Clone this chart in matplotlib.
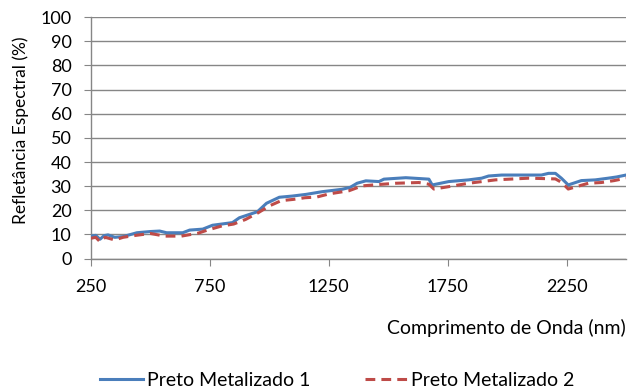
import matplotlib
matplotlib.use("Agg")
import matplotlib.pyplot as plt
from matplotlib.lines import Line2D

plt.rcParams['font.family'] = ['Lato', 'DejaVu Sans']
plt.rcParams['axes.unicode_minus'] = False

# Preto Metalizado 1 (nm, %)
wl_1 = [250, 270, 288, 305, 322, 350, 385, 443, 500, 539, 568, 636, 665, 720,
        761, 845, 874, 950, 988, 1042, 1097, 1155, 1222, 1306, 1340, 1369, 1406,
        1461, 1482, 1574, 1671, 1685, 1700, 1755, 1838, 1893, 1922, 1977, 2144,
        2174, 2203, 2228, 2257, 2312, 2371, 2425, 2460, 2500]
refl_1 = [9.3, 9.6, 8.0, 9.5, 9.8, 8.8, 9.1, 10.7, 11.2, 11.4, 10.7, 10.7, 11.8,
          12.2, 13.8, 14.9, 16.9, 19.4, 22.9, 25.4, 25.9, 26.6, 27.7, 28.7, 29.5,
          31.2, 32.2, 31.9, 32.9, 33.5, 32.9, 30.5, 30.8, 31.9, 32.6, 33.3, 34.2,
          34.6, 34.6, 35.3, 35.3, 33.3, 30.5, 32.3, 32.6, 33.3, 33.8, 34.6]

# Preto Metalizado 2 (nm, %)
wl_2 = [250, 270, 288, 310, 350, 385, 430, 500, 560, 630, 700, 740, 800, 850,
        900, 950, 1000, 1050, 1100, 1150, 1200, 1252, 1335, 1390, 1450, 1532,
        1629, 1671, 1692, 1755, 1838, 1951, 2090, 2203, 2230, 2257, 2341, 2396,
        2450, 2500]
refl_2 = [8.4, 8.8, 7.0, 8.8, 7.7, 8.8, 9.5, 10.4, 9.3, 9.3, 10.5, 11.8, 13.5,
          14.3, 16.2, 18.8, 21.8, 24.0, 24.5, 25.2, 25.5, 26.8, 28.1, 30.1, 30.6,
          31.2, 31.5, 30.8, 28.8, 29.8, 31.2, 32.6, 33.3, 33.0, 31.5, 28.8, 31.2,
          31.5, 32.3, 33.3]

x_ticks = [250, 750, 1250, 1750, 2250]
y_ticks = list(range(0, 101, 10))
labels = ["Preto Metalizado 1", "Preto Metalizado 2"]

blue = "#4A7EBB"
red = "#BE4B48"
grid_c = "#868686"
dash = (0, (3.2, 2.0))

fig = plt.figure(figsize=(6.3, 3.9), dpi=100)
ax = fig.add_axes([0.1444, 0.337, 0.8493, 0.619])

ax.plot(wl_1, refl_1, color=blue, lw=2.2, zorder=3)
ax.plot(wl_2, refl_2, color=red, lw=2.2, ls=dash, zorder=4)

ax.set_xlim(250, 2500)
ax.set_ylim(0, 100)
ax.set_xticks(x_ticks)
ax.set_yticks(y_ticks)
ax.yaxis.grid(True, color=grid_c, lw=1.0)
ax.set_axisbelow(True)

for s in ["top", "right"]:
    ax.spines[s].set_visible(False)
for s in ["left", "bottom"]:
    ax.spines[s].set_color(grid_c)
    ax.spines[s].set_linewidth(1.0)

ax.tick_params(axis="both", direction="out", length=5, color=grid_c,
               labelsize=13, labelcolor="black")
ax.tick_params(axis="x", pad=10)
ax.tick_params(axis="y", pad=9)

ax.set_ylabel("Refletância Espectral (%)", fontsize=12.5)
ax.yaxis.set_label_coords(-0.115, 0.53)
ax.set_xlabel("Comprimento de Onda (nm)", fontsize=14, loc="right", labelpad=17)

handles = [Line2D([], [], color=blue, lw=2.2),
           Line2D([], [], color=red, lw=2.2, ls=dash)]
fig.legend(handles, labels, loc="center left", bbox_to_anchor=(0.159, 0.025),
           ncol=2, frameon=False, fontsize=14, handlelength=2.2,
           handletextpad=0.2, columnspacing=2.8, borderpad=0, borderaxespad=0)

fig.savefig("out.png", dpi=100)
